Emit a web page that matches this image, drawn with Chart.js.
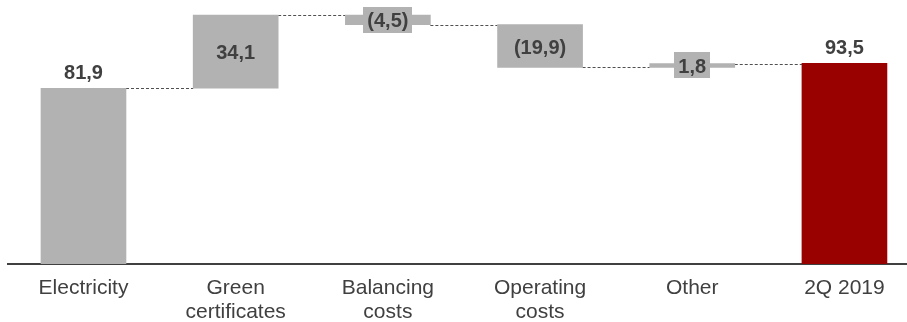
<!DOCTYPE html>
<html>
<head>
<meta charset="utf-8">
<script src="https://cdn.jsdelivr.net/npm/chart.js@4.4.1/dist/chart.umd.min.js"></script>
<style>
  html, body { margin: 0; padding: 0; background: #fff; }
  #wrap { width: 907px; height: 322px; }
</style>
</head>
<body>
<div id="wrap"><canvas id="c" width="907" height="322"></canvas></div>
<script>
// Waterfall: opening electricity result, bridge items, closing 2Q 2019
const categories = ['Electricity', ['Green', 'certificates'], ['Balancing', 'costs'], ['Operating', 'costs'], 'Other', '2Q 2019'];
const values = [81.9, 34.1, -4.5, -19.9, 1.8, 93.5];
const isTotal = [true, false, false, false, false, true];
const barColors = ['#b2b2b2', '#b2b2b2', '#b2b2b2', '#b2b2b2', '#b2b2b2', '#990000'];

const FONT = '"Liberation Sans", Arial, sans-serif';
const TEXT = '#404040';

// Floating [start, end] ranges built from the running total
let running = 0;
const ranges = values.map((v, i) => {
  if (isTotal[i]) { running = v; return [0, v]; }
  const start = running;
  running = +(running + v).toFixed(1);
  return [start, running];
});

function fmt(v) {
  const s = Math.abs(v).toFixed(1).replace('.', ',');
  return v < 0 ? '(' + s + ')' : s;
}

// Dashed connectors between consecutive bars at the running level
const connectors = {
  id: 'connectors',
  beforeDatasetsDraw(chart) {
    const meta = chart.getDatasetMeta(0);
    const y = chart.scales.y;
    const ctx = chart.ctx;
    ctx.save();
    ctx.strokeStyle = '#505050';
    ctx.lineWidth = 1;
    ctx.setLineDash([3, 2]);
    for (let i = 0; i < ranges.length - 1; i++) {
      const a = meta.data[i], b = meta.data[i + 1];
      const level = ranges[i][1];
      const py = Math.round(y.getPixelForValue(level)) + 0.5;
      ctx.beginPath();
      ctx.moveTo(a.x + a.width / 2, py);
      ctx.lineTo(b.x - b.width / 2, py);
      ctx.stroke();
    }
    ctx.restore();
  }
};

// Value labels: above totals, centred on the bridge bars (boxed when the bar is thin)
const valueLabels = {
  id: 'valueLabels',
  afterDatasetsDraw(chart) {
    const meta = chart.getDatasetMeta(0);
    const ctx = chart.ctx;
    ctx.save();
    ctx.font = 'bold 20px ' + FONT;
    ctx.textAlign = 'center';
    meta.data.forEach((bar, i) => {
      const top = Math.min(bar.y, bar.base);
      const bottom = Math.max(bar.y, bar.base);
      const text = fmt(values[i]);
      if (isTotal[i]) {
        ctx.fillStyle = TEXT;
        ctx.textBaseline = 'alphabetic';
        ctx.fillText(text, bar.x, top - 9);
        return;
      }
      const mid = (top + bottom) / 2;
      if (bottom - top < 30) {
        const w = ctx.measureText(text).width + 8;
        ctx.fillStyle = barColors[i];
        ctx.fillRect(Math.round(bar.x - w / 2), Math.round(mid - 13), Math.round(w), 26);
      }
      ctx.fillStyle = TEXT;
      ctx.textBaseline = 'middle';
      ctx.fillText(text, bar.x, mid + 2);
    });
    ctx.restore();
  }
};

new Chart(document.getElementById('c'), {
  type: 'bar',
  data: {
    datasets: [{
      data: ranges.map((r, i) => ({ x: i, y: r })),
      backgroundColor: barColors,
      borderWidth: 0,
      barThickness: 85
    }]
  },
  options: {
    responsive: false,
    animation: false,
    devicePixelRatio: 1,
    layout: { padding: { top: 0, left: 8, right: 0, bottom: 0 } },
    plugins: { legend: { display: false }, tooltip: { enabled: false } },
    scales: {
      x: {
        type: 'linear',
        min: -0.496,
        max: 5.411,
        offset: false,
        grid: { display: false },
        border: { display: true, color: '#404040', width: 2 },
        ticks: {
          color: TEXT,
          font: { family: FONT, size: 21, lineHeight: 1.15 },
          padding: 4,
          maxRotation: 0,
          autoSkip: false,
          callback: (v) => categories[v]
        },
        afterBuildTicks: (s) => { s.ticks = categories.map((_, i) => ({ value: i })); },
        afterFit: (s) => { s.height = 58; }
      },
      y: {
        display: false,
        min: 0,
        max: 123
      }
    }
  },
  plugins: [connectors, valueLabels]
});
</script>
</body>
</html>
